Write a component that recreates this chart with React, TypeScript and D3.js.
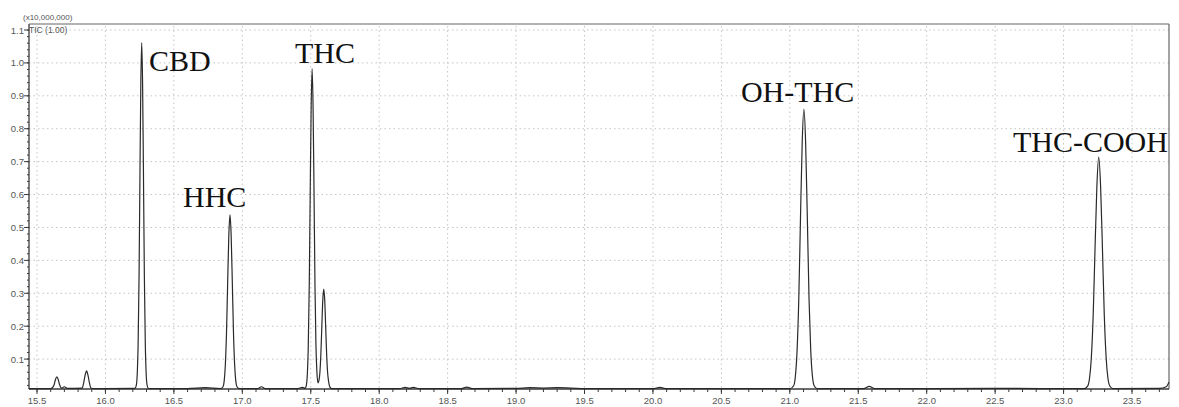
import React from "react";
import * as d3 from "d3";

// Chromatogram trace points: [retention time (min), intensity (x10,000,000)]
const traceTimes: number[] = [
  15.44, 15.6, 15.61, 15.625, 15.635, 15.645, 15.655, 15.665, 15.68, 15.7, 15.72,
  15.83, 15.842, 15.852, 15.862, 15.872, 15.882, 15.894, 15.92,
  16.215, 16.226, 16.2325, 16.239, 16.2455, 16.252, 16.2585, 16.265, 16.2715, 16.278, 16.2845, 16.291, 16.2975, 16.304, 16.315,
  16.6, 16.73, 16.84,
  16.859, 16.8675, 16.876, 16.8845, 16.893, 16.9015, 16.91, 16.9185, 16.927, 16.9355, 16.944, 16.9525, 16.961, 16.98,
  17.11, 17.14, 17.17, 17.4, 17.44, 17.458,
  17.468, 17.475, 17.482, 17.489, 17.496, 17.503, 17.51, 17.517, 17.524, 17.531, 17.538, 17.545, 17.553, 17.56, 17.567, 17.574, 17.581, 17.588, 17.595, 17.602, 17.609, 17.616, 17.623, 17.63, 17.64, 17.655,
  17.9, 18.15, 18.19, 18.22, 18.25, 18.29, 18.6, 18.64, 18.68, 19.0, 19.1, 19.2, 19.3, 19.4, 19.5, 20.0, 20.05, 20.1, 21.0,
  21.028, 21.0405, 21.053, 21.0655, 21.078, 21.0905, 21.103, 21.1155, 21.128, 21.1405, 21.153, 21.1655, 21.178, 21.2,
  21.54, 21.58, 21.62, 22.5, 23.15,
  23.176, 23.1895, 23.203, 23.2165, 23.23, 23.2435, 23.257, 23.2705, 23.284, 23.2975, 23.311, 23.3245, 23.338, 23.36,
  23.7, 23.75, 23.77,
];

const traceValues: number[] = [
  0.01, 0.01, 0.012, 0.022, 0.038, 0.046, 0.038, 0.022, 0.012, 0.016, 0.011,
  0.012, 0.03, 0.052, 0.064, 0.052, 0.03, 0.012, 0.01,
  0.011, 0.022, 0.056, 0.152, 0.347, 0.652, 0.936, 1.062, 0.936, 0.652, 0.347, 0.152, 0.056, 0.022, 0.01,
  0.01, 0.013, 0.01,
  0.016, 0.033, 0.082, 0.18, 0.333, 0.476, 0.538, 0.476, 0.333, 0.18, 0.082, 0.033, 0.016, 0.01,
  0.01, 0.016, 0.01, 0.01, 0.014, 0.011,
  0.021, 0.053, 0.141, 0.321, 0.603, 0.865, 0.982, 0.865, 0.603, 0.321, 0.141, 0.06, 0.028, 0.035, 0.06, 0.116, 0.2, 0.28, 0.313, 0.28, 0.2, 0.116, 0.06, 0.033, 0.015, 0.01,
  0.01, 0.01, 0.014, 0.011, 0.014, 0.01, 0.01, 0.015, 0.01, 0.011, 0.013, 0.012, 0.013, 0.012, 0.01, 0.01, 0.014, 0.01, 0.01,
  0.019, 0.047, 0.125, 0.282, 0.529, 0.758, 0.86, 0.758, 0.529, 0.282, 0.125, 0.047, 0.019, 0.01,
  0.01, 0.017, 0.01, 0.011, 0.01,
  0.018, 0.041, 0.105, 0.234, 0.437, 0.626, 0.714, 0.626, 0.437, 0.234, 0.105, 0.041, 0.018, 0.01,
  0.011, 0.016, 0.03,
];

const peakNames: string[] = ["CBD", "HHC", "THC", "OH-THC", "THC-COOH"];
const peakLabelTimes: number[] = [16.318, 16.567, 17.385, 20.643, 22.63];
const peakLabelValues: number[] = [0.975, 0.562, 1.0, 0.881, 0.729];

const xTickValues: number[] = [15.5, 16.0, 16.5, 17.0, 17.5, 18.0, 18.5, 19.0, 19.5, 20.0, 20.5, 21.0, 21.5, 22.0, 22.5, 23.0, 23.5];
const yTickValues: number[] = [0.1, 0.2, 0.3, 0.4, 0.5, 0.6, 0.7, 0.8, 0.9, 1.0, 1.1];

const W = 1179;
const H = 407;
const left = 29;
const right = 1169;
const top = 24;
const bottom = 389;

export default function App() {
  const x = d3.scaleLinear().domain([15.5, 23.5]).range([37, 1132]);
  const y = d3.scaleLinear().domain([0, 1.1]).range([392, 30]);

  const data: [number, number][] = traceTimes.map((t, i) => [t, traceValues[i]]);
  const line = d3
    .line<[number, number]>()
    .x((d) => x(d[0]))
    .y((d) => Math.min(y(d[1]), bottom))
    .curve(d3.curveMonotoneX);

  const xMin = x.invert(left);
  const xMax = x.invert(right);
  const xMinor = d3.range(Math.ceil(xMin * 10), Math.floor(xMax * 10) + 1).map((v) => v / 10);
  const yMinor = d3.range(1, 56).map((v) => v / 50);

  const gridColor = "#c4c4c4";
  const axisColor = "#3a3a3a";
  const labelColor = "#555";

  return (
    <svg
      width={W}
      height={H}
      style={{ position: "absolute", left: 0, top: 0, background: "#fff" }}
      fontFamily="'Liberation Sans', Arial, sans-serif"
    >
      <rect x={0} y={0} width={W} height={H} fill="#fff" />
      {/* grid */}
      {xTickValues.map((v) => (
        <line key={"gx" + v} x1={x(v)} x2={x(v)} y1={top + 2} y2={bottom} stroke={gridColor} strokeWidth={1} strokeDasharray="1.5,3" />
      ))}
      {yTickValues.map((v) => (
        <line key={"gy" + v} x1={left} x2={right} y1={y(v)} y2={y(v)} stroke={gridColor} strokeWidth={1} strokeDasharray="1.5,3" />
      ))}

      {/* frame */}
      <line x1={left} x2={right} y1={top} y2={top} stroke="#666" strokeWidth={1.2} />
      <line x1={right} x2={right} y1={top} y2={bottom} stroke="#666" strokeWidth={1.2} />
      <line x1={left} x2={left} y1={top} y2={bottom} stroke={axisColor} strokeWidth={1.3} />
      <line x1={left} x2={right} y1={bottom} y2={bottom} stroke={axisColor} strokeWidth={1.3} />

      {/* x ticks */}
      {xMinor.map((v) => (
        <line key={"xm" + v} x1={x(v)} x2={x(v)} y1={bottom} y2={bottom + 3} stroke={axisColor} strokeWidth={1} />
      ))}
      {xTickValues.map((v) => (
        <g key={"xt" + v}>
          <line x1={x(v)} x2={x(v)} y1={bottom} y2={bottom + 5} stroke={axisColor} strokeWidth={1} />
          <text x={x(v)} y={404} fontSize={9.5} fill={labelColor} textAnchor="middle">
            {v.toFixed(1)}
          </text>
        </g>
      ))}

      {/* y ticks */}
      {yMinor.map((v) => (
        <line key={"ym" + v} x1={left - 2} x2={left} y1={y(v)} y2={y(v)} stroke={axisColor} strokeWidth={1} />
      ))}
      {yTickValues.map((v) => (
        <g key={"yt" + v}>
          <line x1={left - 5} x2={left} y1={y(v)} y2={y(v)} stroke={axisColor} strokeWidth={1} />
          <text x={left - 5} y={y(v) + 3.5} fontSize={9.5} fill={labelColor} textAnchor="end">
            {v.toFixed(1)}
          </text>
        </g>
      ))}

      <text x={23} y={20} fontSize={8} fill={labelColor}>(x10,000,000)</text>
      <text x={29} y={33} fontSize={8.5} fill={labelColor}>TIC (1.00)</text>

      {/* trace */}
      <path d={line(data) || ""} fill="none" stroke="#2a2a2a" strokeWidth={1.2} strokeLinejoin="round" />

      {/* peak labels */}
      {peakNames.map((n, i) => (
        <text
          key={n}
          x={x(peakLabelTimes[i])}
          y={y(peakLabelValues[i])}
          fontSize={30}
          fontFamily="'Liberation Serif', 'Times New Roman', serif"
          fill="#111"
        >
          {n}
        </text>
      ))}
    </svg>
  );
}
